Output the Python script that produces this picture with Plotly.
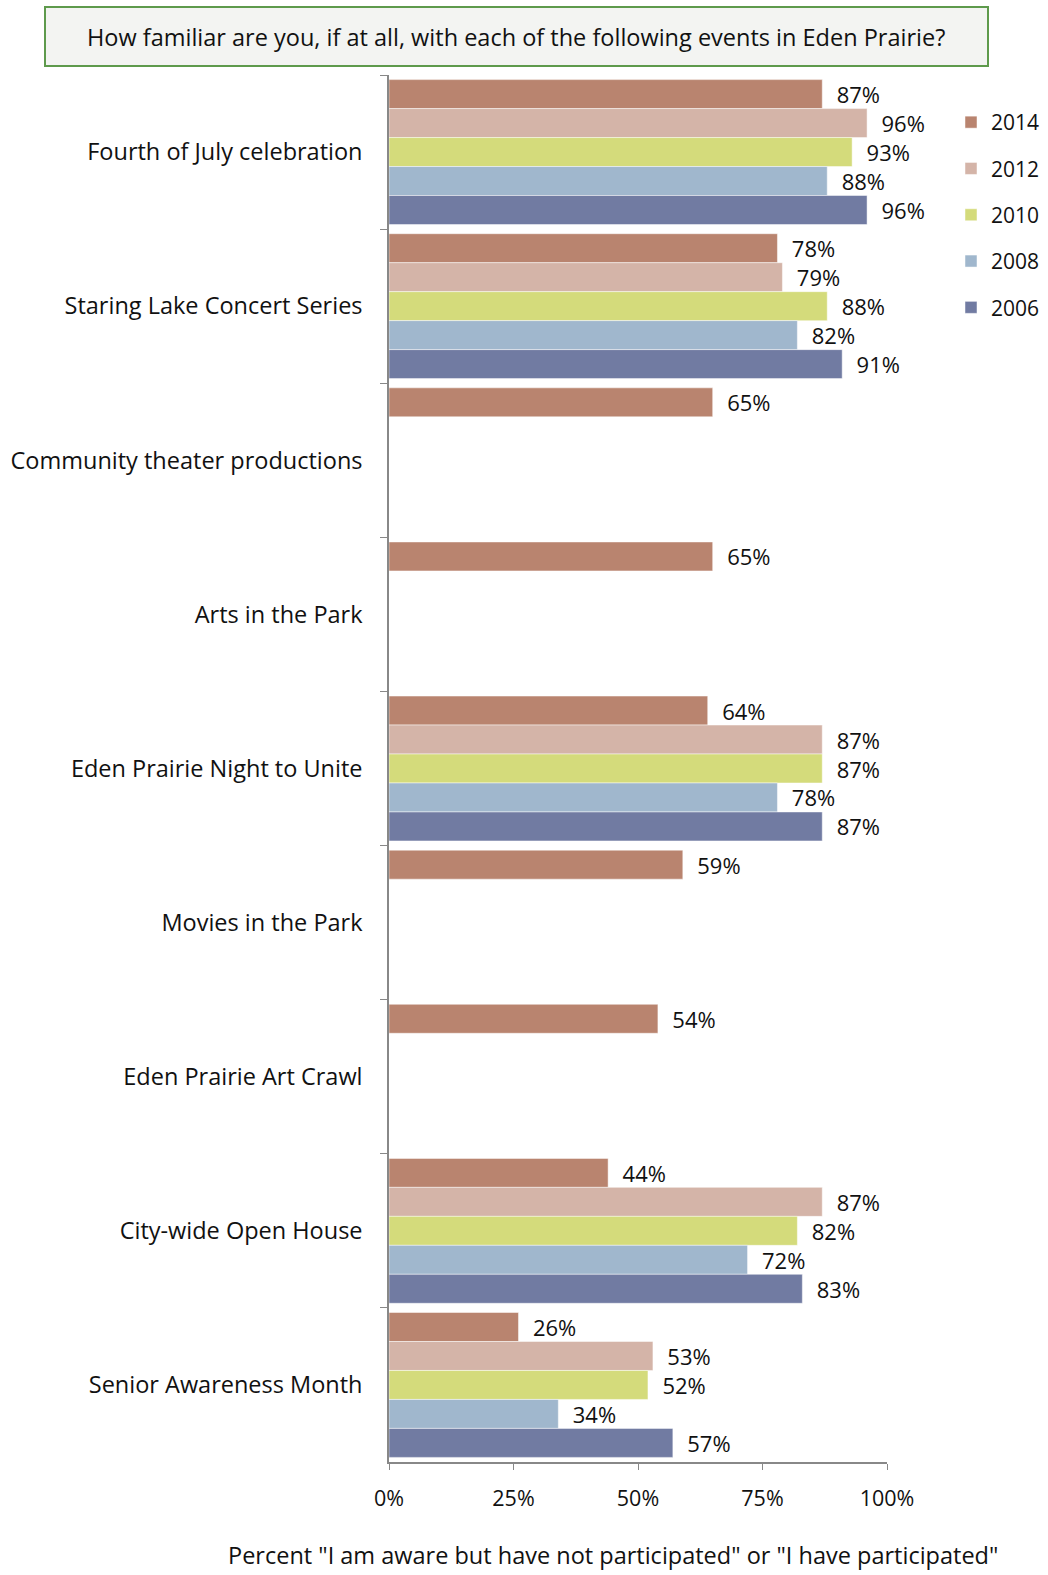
import plotly.graph_objects as go

# Survey events, top to bottom
events = [
    "Fourth of July celebration",
    "Staring Lake Concert Series",
    "Community theater productions",
    "Arts in the Park",
    "Eden Prairie Night to Unite",
    "Movies in the Park",
    "Eden Prairie Art Crawl",
    "City-wide Open House",
    "Senior Awareness Month",
]

years = ["2014", "2012", "2010", "2008", "2006"]

pct_2014 = [87, 78, 65, 65, 64, 59, 54, 44, 26]
pct_2012 = [96, 79, None, None, 87, None, None, 87, 53]
pct_2010 = [93, 88, None, None, 87, None, None, 82, 52]
pct_2008 = [88, 82, None, None, 78, None, None, 72, 34]
pct_2006 = [96, 91, None, None, 87, None, None, 83, 57]

series = [pct_2014, pct_2012, pct_2010, pct_2008, pct_2006]
colors = ["#B9846F", "#D4B4A8", "#D4DB7B", "#A0B7CD", "#717BA2"]

x_ticks = [0, 25, 50, 75, 100]
x_tick_text = ["0%", "25%", "50%", "75%", "100%"]

W, H = 1048, 1575
L, R, T, B = 389, 161, 75, 113
PW, PH = W - L - R, H - T - B


def px_x(px):
    return (px - L) / PW


def px_y(py):
    return 1 - (py - T) / PH


FONT = "Open Sans"

fig = go.Figure()
for year, vals, col in zip(years, series, colors):
    fig.add_trace(go.Bar(
        name=year,
        y=events,
        x=vals,
        orientation="h",
        marker=dict(color=col, line=dict(color="rgba(255,255,255,0.8)", width=0.6)),
        text=[None if v is None else "\u00a0\u00a0%d%%" % v for v in vals],
        textposition="outside",
        textfont=dict(family=FONT, size=22, color="#111111"),
        cliponaxis=False,
        constraintext="none",
        legendgroup=year,
        hoverinfo="x+y+name",
    ))

fig.update_layout(
    width=W,
    height=H,
    margin=dict(l=L, r=R, t=T, b=B, autoexpand=False),
    barmode="group",
    bargap=0.06,
    bargroupgap=0,
    plot_bgcolor="white",
    paper_bgcolor="white",
    font=dict(family=FONT, color="#111111"),
    legend=dict(
        x=px_x(951), xanchor="left",
        y=px_y(102), yanchor="top",
        traceorder="grouped",
        tracegroupgap=16,
        font=dict(family=FONT, size=21, color="#111111"),
        bgcolor="rgba(0,0,0,0)",
        itemwidth=30,
    ),
    xaxis=dict(
        range=[0, 100],
        tickvals=x_ticks,
        ticktext=x_tick_text,
        ticks="outside",
        ticklen=6,
        tickcolor="#888888",
        showline=True,
        linecolor="#888888",
        linewidth=1.5,
        showgrid=False,
        zeroline=False,
        tickfont=dict(family=FONT, size=21.5, color="#111111"),
        ticklabelstandoff=10,
    ),
    yaxis=dict(
        autorange="reversed",
        tickson="boundaries",
        ticks="outside",
        ticklen=7,
        tickcolor="#888888",
        showline=True,
        linecolor="#888888",
        linewidth=1.5,
        showgrid=False,
        tickfont=dict(family=FONT, size=23.5, color="#111111"),
        ticklabelstandoff=20,
    ),
)

# Question banner across the top
fig.add_shape(
    type="rect", xref="paper", yref="paper",
    x0=px_x(45), x1=px_x(988), y0=px_y(7), y1=px_y(66),
    line=dict(color="#5E9A4C", width=2),
    fillcolor="#F3F4F2",
    layer="below",
)
fig.add_annotation(
    xref="paper", yref="paper",
    x=px_x(516), y=px_y(37),
    text="How familiar are you, if at all, with each of the following events in Eden Prairie?",
    showarrow=False,
    font=dict(family=FONT, size=23.5, color="#111111"),
    xanchor="center", yanchor="middle",
)

# Horizontal axis caption
fig.add_annotation(
    xref="paper", yref="paper",
    x=px_x(613), y=px_y(1555),
    text='Percent "I am aware but have not participated" or "I have participated"',
    showarrow=False,
    font=dict(family=FONT, size=23.5, color="#111111"),
    xanchor="center", yanchor="middle",
)

fig.write_html("out.html")
